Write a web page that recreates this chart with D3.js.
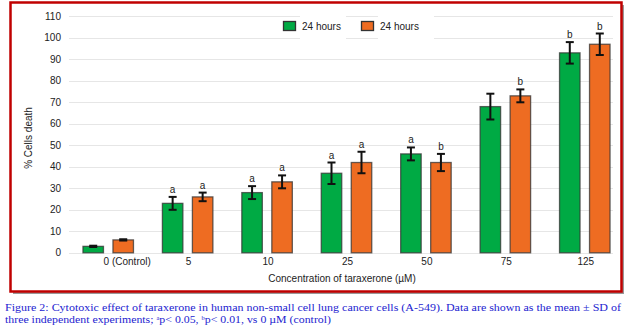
<!DOCTYPE html>
<html>
<head>
<meta charset="utf-8">
<title>Cytotoxic effect of taraxerone</title>
<style>
  body { margin: 0; background: #fff; }
  svg text { font-family: "Liberation Sans", Arial, sans-serif; }
</style>
</head>
<body>
<script src="https://cdn.jsdelivr.net/npm/d3@7"></script>
<script>

var width = 628,
    height = 333;

// data
var categories = ["0 (Control)", "5", "10", "25", "50", "75", "125"];
var seriesNames = ["24 hours", "24 hours"];
var greenValues = [3, 23, 28, 37, 46, 68, 93];
var greenErrors = [0.3, 3, 3, 5, 3, 6, 5];
var orangeValues = [6, 26, 33, 42, 42, 73, 97];
var orangeErrors = [0.3, 2, 3, 5, 4, 3, 5];
var greenSig = ["", "a", "a", "a", "a", "", "b"];
var orangeSig = ["", "a", "a", "a", "b", "b", "b"];
var yTicks = [0, 10, 20, 30, 40, 50, 60, 70, 80, 90, 100, 110];

var colors = ["#00aa44", "#ee6c22"];

var svg = d3.select("body")
            .append("svg")
            .attr("width", width)
            .attr("height", height);

// frame with shadow
svg.append("rect")
   .attr("x", 13).attr("y", 5).attr("width", 611).attr("height", 289)
   .attr("fill", "#999");
svg.append("rect")
   .attr("x", 10.5).attr("y", 2.5).attr("width", 611).attr("height", 289)
   .attr("fill", "#fff").attr("stroke", "#c00000").attr("stroke-width", 2.5);

var x = d3.scaleBand()
          .domain(categories)
          .range([68.5, 624.5]);

var y = d3.scaleLinear()
          .domain([0, 110])
          .range([252.8, 16.3]);

// gridlines
svg.append("g")
   .selectAll("line")
   .data(yTicks)
   .enter().append("line")
   .attr("x1", 69).attr("x2", 613)
   .attr("y1", function(d){ return Math.round(y(d)) + 0.5; })
   .attr("y2", function(d){ return Math.round(y(d)) + 0.5; })
   .attr("stroke", "#e6e6e6")
   .attr("stroke-width", 1);

// y axis tick labels
svg.append("g")
   .selectAll("text")
   .data(yTicks)
   .enter().append("text")
   .attr("x", 61)
   .attr("y", function(d){ return y(d); })
   .attr("dy", "0.35em")
   .attr("text-anchor", "end")
   .attr("font-size", "10px")
   .attr("fill", "#222")
   .text(function(d){ return d; });

// x axis labels
var xAxis = d3.axisBottom(x).tickSize(0).tickPadding(0);
var xg = svg.append("g")
   .attr("transform", "translate(0,258)")
   .call(xAxis);
xg.select(".domain").remove();
xg.selectAll("text")
  .attr("font-size", "10px")
  .attr("font-family", "Liberation Sans, Arial, sans-serif")
  .attr("fill", "#222")
  .attr("dx", function(d, i){ return i == 0 ? 19 : 1; });

var series = [
  {name: seriesNames[0], values: greenValues, errors: greenErrors, sig: greenSig, off: -15, color: colors[0]},
  {name: seriesNames[1], values: orangeValues, errors: orangeErrors, sig: orangeSig, off: 15, color: colors[1]}
];

var barW = 20.5;

series.forEach(function(s) {
  var g = svg.append("g");
  var cx = function(i){ return x(categories[i]) + x.bandwidth() / 2 + s.off; };

  g.selectAll("rect")
   .data(s.values)
   .enter().append("rect")
   .attr("x", function(d, i){ return cx(i) - barW / 2; })
   .attr("y", function(d){ return y(d); })
   .attr("width", barW)
   .attr("height", function(d){ return y(0) - y(d); })
   .attr("fill", s.color)
   .attr("stroke", "#333")
   .attr("stroke-opacity", 0.75)
   .attr("stroke-width", 1.3);

  // error bars
  var eb = g.selectAll("g.err")
   .data(s.values)
   .enter().append("g").attr("class", "err");
  eb.append("line")
    .attr("x1", function(d, i){ return cx(i); })
    .attr("x2", function(d, i){ return cx(i); })
    .attr("y1", function(d, i){ return y(d + s.errors[i]); })
    .attr("y2", function(d, i){ return y(d - s.errors[i]); })
    .attr("stroke", "#111").attr("stroke-width", 2);
  eb.append("line")
    .attr("x1", function(d, i){ return cx(i) - 4; })
    .attr("x2", function(d, i){ return cx(i) + 4; })
    .attr("y1", function(d, i){ return y(d + s.errors[i]); })
    .attr("y2", function(d, i){ return y(d + s.errors[i]); })
    .attr("stroke", "#111").attr("stroke-width", 2);
  eb.append("line")
    .attr("x1", function(d, i){ return cx(i) - 4; })
    .attr("x2", function(d, i){ return cx(i) + 4; })
    .attr("y1", function(d, i){ return y(d - s.errors[i]); })
    .attr("y2", function(d, i){ return y(d - s.errors[i]); })
    .attr("stroke", "#111").attr("stroke-width", 2);

  // significance letters
  g.selectAll("text")
   .data(s.values)
   .enter().append("text")
   .attr("x", function(d, i){ return cx(i); })
   .attr("y", function(d, i){ return y(d + s.errors[i]) - 4; })
   .attr("text-anchor", "middle")
   .attr("font-size", "10px")
   .attr("fill", "#222")
   .text(function(d, i){ return s.sig[i]; });
});

// legend
var legendX = [283, 361];
series.forEach(function(s, i) {
  svg.append("rect")
     .attr("x", legendX[i] + 17).attr("y", 13)
     .attr("width", i == 0 ? 46 : 56).attr("height", 28)
     .attr("fill", "#fff");
  svg.append("rect")
     .attr("x", legendX[i] + 0.5).attr("y", 21.5)
     .attr("width", 12).attr("height", 9)
     .attr("fill", s.color)
     .attr("stroke", "#333").attr("stroke-width", 1.3);
  svg.append("text")
     .attr("x", legendX[i] + 19).attr("y", 26)
     .attr("dy", "0.35em")
     .attr("font-size", "10px")
     .attr("fill", "#222")
     .text(s.name);
});

// axis titles
svg.append("text")
   .attr("transform", "translate(32,138) rotate(-90)")
   .attr("text-anchor", "middle")
   .attr("font-size", "10px")
   .attr("fill", "#222")
   .text("% Cells death");

svg.append("text")
   .attr("x", 342).attr("y", 278)
   .attr("dy", "0.35em")
   .attr("text-anchor", "middle")
   .attr("font-size", "10px")
   .attr("fill", "#222")
   .text("Concentration of taraxerone (\u00b5M)");

// caption
var cap = svg.append("g")
   .attr("font-family", "Liberation Serif, serif")
   .attr("font-size", "11px")
   .attr("fill", "#2323d0");
cap.append("text")
   .attr("x", 5).attr("y", 311)
   .style("font-family", "Liberation Serif, serif")
   .attr("textLength", 616)
   .attr("lengthAdjust", "spacingAndGlyphs")
   .text("Figure 2: Cytotoxic effect of taraxerone in human non-small cell lung cancer cells (A-549). Data are shown as the mean \u00b1 SD of");
var l2 = cap.append("text")
   .attr("x", 5).attr("y", 323)
   .style("font-family", "Liberation Serif, serif")
   .attr("textLength", 326)
   .attr("lengthAdjust", "spacingAndGlyphs");
l2.append("tspan").text("three independent experiments; ");
l2.append("tspan").attr("font-size", "6px").attr("dy", -3).text("a");
l2.append("tspan").attr("dy", 3).text("p< 0.05, ");
l2.append("tspan").attr("font-size", "6px").attr("dy", -3).text("b");
l2.append("tspan").attr("dy", 3).text("p< 0.01, vs 0 \u00b5M (control)");

</script>
</body>
</html>
